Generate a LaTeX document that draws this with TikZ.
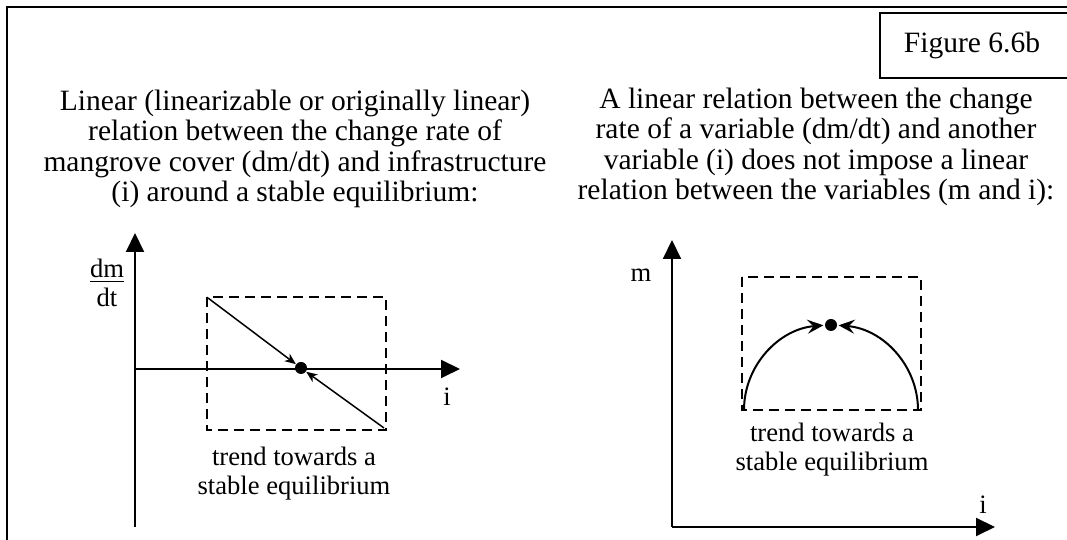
\documentclass[tikz,border=0pt]{standalone}
\usepackage{amsmath}
\usepackage{fontspec}
\setmainfont{Liberation Serif}
\usepackage{tikz}
\usetikzlibrary{arrows.meta, positioning}

\begin{document}
\begin{tikzpicture}[x=0.5pt, y=0.5pt,
		title/.style={align=center, font=\fontsize{14.75}{15.2}\selectfont},
		lbl/.style={align=center, font=\fontsize{13.3}{14.5}\selectfont},
		axis/.style={line width=1pt, -{Triangle[length=9.5pt, width=9pt]}},
		trendbox/.style={line width=1pt, dash pattern=on 5pt off 3pt},
		eqdot/.style={circle, fill, inner sep=0pt, minimum size=6pt},
		trend/.style={line width=0.75pt, -{Stealth[length=5.5pt, width=4.5pt, inset=1.5pt]}},
		trendarc/.style={line width=1pt, -{Stealth[length=8pt, width=7pt, inset=3pt]}}]
			\useasboundingbox (0, 0) rectangle (1067, 540);
			\clip (0, 0) rectangle (1067, 540);
			% Frame and figure label:
			\draw[line width=1pt] (7, 533) rectangle (1075, -10);
			\draw[line width=0.7pt] (880, 527) rectangle (1075, 462);
			\node[title](Fig) at (972, 495){Figure 6.6b};
			% Titles:
			\node[title](T1) at (295, 391){Linear (linearizable or originally linear)\\relation between the change rate of\\mangrove cover (dm/dt) and infrastructure\\(i) around a stable equilibrium:};
			\node[title](T2) at (816, 393){A linear relation between the change\\rate of a variable (dm/dt) and another\\variable (i) does not impose a linear\\relation between the variables (m and i):};
			% Left plot:
			\coordinate (L1) at (135, 13);
			\coordinate (L2) at (135, 307);
			\coordinate (L3) at (135, 171);
			\coordinate (L4) at (460, 171);
			\draw[axis] (L1) -- (L2);
			\draw[axis] (L3) -- (L4);
			\node[lbl](LY) at (107, 257){\underline{dm}\\dt};
			\node[lbl](LX) at (447, 143){i};
			\draw[trendbox] (207, 243) rectangle (386, 110);
			\node[eqdot](E1) at (301, 172){};
			\coordinate (A1) at (208, 242);
			\coordinate (A2) at (384, 112);
			\draw[trend] (A1) -- (E1);
			\draw[trend] (A2) -- (E1);
			\node[lbl](LT) at (294, 66.5){trend towards a\\stable equilibrium};
			% Right plot:
			\coordinate (R1) at (672, 13);
			\coordinate (R2) at (672, 300);
			\coordinate (R3) at (995, 13);
			\draw[axis] (R1) -- (R2);
			\draw[axis] (R1) -- (R3);
			\node[lbl](RY) at (641, 265){m};
			\node[lbl](RX) at (983, 35){i};
			\draw[trendbox] (742, 263) rectangle (921, 130);
			\node[eqdot](E2) at (831, 215){};
			\coordinate (B1) at (744, 130);
			\coordinate (B2) at (918, 130);
			\draw[trendarc] (B1) arc[start angle=180, end angle=95, x radius=87, y radius=85];
			\draw[trendarc] (B2) arc[start angle=0, end angle=85, x radius=87, y radius=85];
			\node[lbl](RT) at (832, 90.5){trend towards a\\stable equilibrium};
		\end{tikzpicture}
\end{document}
